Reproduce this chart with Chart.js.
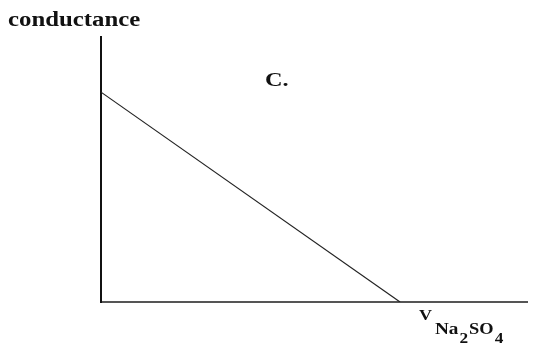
<!DOCTYPE html>
<html>
<head>
<meta charset="utf-8">
<script src="https://cdn.jsdelivr.net/npm/chart.js@4"></script>
<style>
  html, body { margin: 0; padding: 0; background: #fff; }
  canvas { display: block; }
</style>
</head>
<body>
<canvas id="graph" width="534" height="343"></canvas>
<script>
// values (arbitrary units, axes run 0..10)
var volume = [0, 7.02];
var conductance = [7.92, 0];

var yLabel = 'conductance';
var panelLabel = 'C.';

// draw text stretched horizontally, the picture's fonts look widened
function stretchText(ctx, text, x, y, size, sx) {
	ctx.save();
	ctx.font = 'bold ' + size + 'px "Liberation Serif", "DejaVu Serif", serif';
	ctx.translate(x, y);
	ctx.scale(sx, 1);
	ctx.fillText(text, 0, 0);
	var w = ctx.measureText(text).width * sx;
	ctx.restore();
	return w;
}

var labels = {
	id: 'labels',
	afterDraw: function(chart) {
		var ctx = chart.ctx;
		ctx.save();
		ctx.fillStyle = '#111';
		ctx.textBaseline = 'alphabetic';
		stretchText(ctx, yLabel, 8, 26, 20, 1.24);
		stretchText(ctx, panelLabel, 265, 86, 18, 1.35);

		// V with subscript Na2SO4
		var x = 419;
		x += stretchText(ctx, 'V', x, 320, 15, 1.2) + 3;
		x += stretchText(ctx, 'Na', x, 334, 16, 1.2);
		x += stretchText(ctx, '2', x + 1, 343, 15, 1.15) + 2;
		x += stretchText(ctx, 'SO', x, 334, 16, 1.15);
		stretchText(ctx, '4', x + 1, 343, 15, 1.15);
		ctx.restore();
	}
};

var ctx = document.getElementById('graph').getContext('2d');

var myChart = new Chart(ctx, {
	type: 'scatter',
	data: {
		datasets: [{
			data: volume.map(function(v, i) { return { x: v, y: conductance[i] }; }),
			showLine: true,
			borderColor: '#222',
			borderWidth: 1.2,
			pointRadius: 0
		}]
	},
	options: {
		responsive: false,
		animation: false,
		devicePixelRatio: 1,
		layout: {
			padding: { left: 101, right: 7, top: 37, bottom: 41 }
		},
		plugins: {
			legend: { display: false },
			tooltip: { enabled: false }
		},
		scales: {
			x: {
				type: 'linear',
				min: 0,
				max: 10,
				ticks: { display: false },
				grid: { drawOnChartArea: false, drawTicks: false },
				border: { display: true, color: '#555', width: 2 }
			},
			y: {
				type: 'linear',
				min: 0,
				max: 10,
				ticks: { display: false },
				grid: { drawOnChartArea: false, drawTicks: false },
				border: { display: true, color: '#111', width: 2 }
			}
		}
	},
	plugins: [labels]
});
</script>
</body>
</html>
